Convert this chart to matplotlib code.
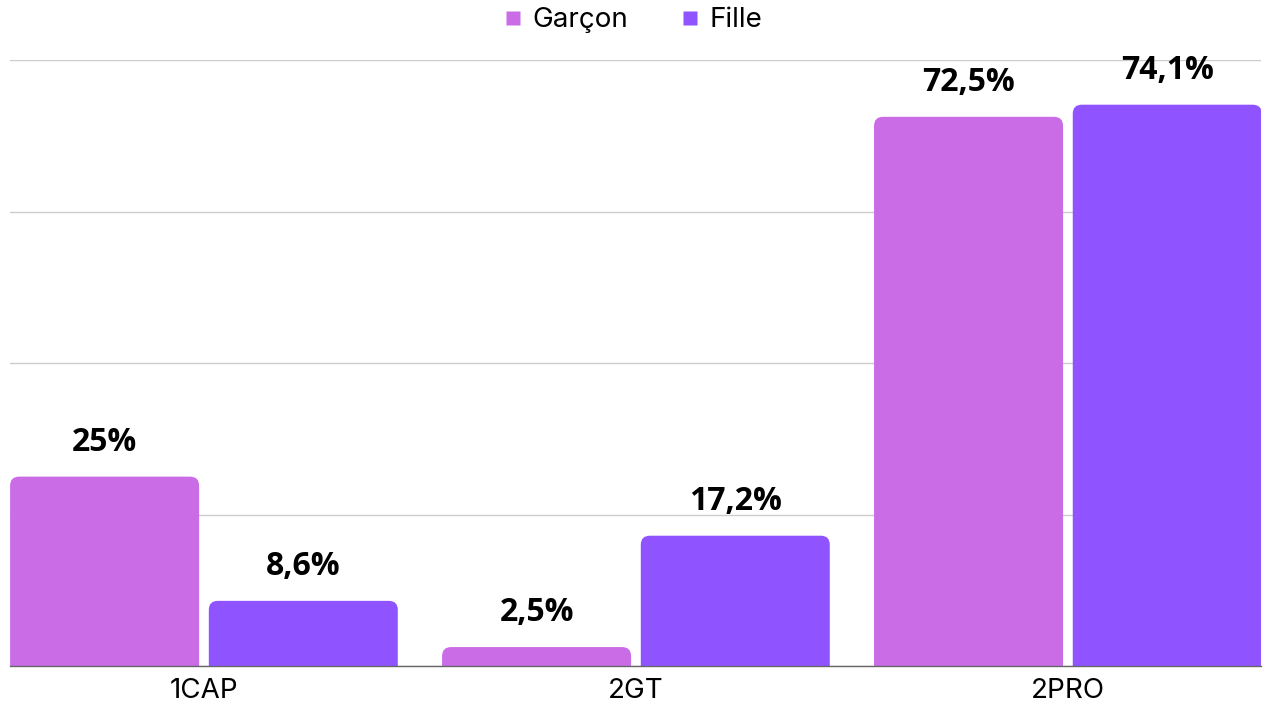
import matplotlib

matplotlib.use("Agg")

import matplotlib.pyplot as plt
from matplotlib.lines import Line2D
from matplotlib.patches import FancyBboxPatch

categories = ["1CAP", "2GT", "2PRO"]
series_names = ["Garçon", "Fille"]
garcon = [25.0, 2.5, 72.5]
fille = [8.6, 17.2, 74.1]
garcon_labels = ["25%", "2,5%", "72,5%"]
fille_labels = ["8,6%", "17,2%", "74,1%"]

colors = ["#C96CE6", "#8F54FF"]
tick_font = ["Inter", "DejaVu Sans"]
label_font = ["Open Sans", "DejaVu Sans"]

fig = plt.figure(figsize=(12.69, 7.09), dpi=100)
ax = fig.add_axes([10 / 1269, 43 / 709, 1251 / 1269, 606 / 709])
ax.set_xlim(-0.449, 2.447)
ax.set_ylim(0, 80)

# pixel scale, used to keep the corner radius round
fig.canvas.draw()
x0, y0 = ax.transData.transform((0, 0))
x1, y1 = ax.transData.transform((1, 1))
px_x = x1 - x0
px_y = y1 - y0
radius_px = 9
rx = radius_px / px_x
aspect = (radius_px / px_y) / rx

width = 0.4375
offset = 0.23
for values, labels, color, sign in [
    (garcon, garcon_labels, colors[0], -1),
    (fille, fille_labels, colors[1], 1),
]:
    for i, (value, text) in enumerate(zip(values, labels)):
        center = i + sign * offset
        patch = FancyBboxPatch(
            (center - width / 2, -5),
            width,
            value + 5,
            boxstyle=f"round,pad=0,rounding_size={rx}",
            mutation_aspect=aspect,
            facecolor=color,
            edgecolor="none",
            zorder=2,
        )
        ax.add_patch(patch)
        ax.annotate(
            text,
            (center, value),
            xytext=(0, 26),
            textcoords="offset pixels",
            ha="center",
            va="baseline",
            fontsize=23,
            fontweight="bold",
            family=label_font,
            annotation_clip=False,
        )

ax.set_yticks([0, 20, 40, 60, 80])
ax.yaxis.grid(True, color="#cccccc", linewidth=1)
ax.set_axisbelow(True)
ax.tick_params(axis="y", left=False, labelleft=False)
ax.set_xticks(range(len(categories)))
ax.set_xticklabels(categories, fontsize=20, family=tick_font)
ax.tick_params(axis="x", length=0, pad=9)
for side in ["top", "right", "left"]:
    ax.spines[side].set_visible(False)
ax.spines["bottom"].set_color("#666666")
ax.spines["bottom"].set_linewidth(1)
ax.spines["bottom"].set_zorder(3)

handles = [
    Line2D([], [], linestyle="none", marker="s", markersize=10.5,
           markerfacecolor=c, markeredgecolor="none")
    for c in colors
]
fig.legend(
    handles,
    series_names,
    loc="upper center",
    bbox_to_anchor=(0.497, 1.025),
    ncol=2,
    frameon=False,
    handlelength=1.0,
    handletextpad=0.2,
    columnspacing=1.7,
    prop={"family": tick_font, "size": 20},
)

fig.savefig("out.png", dpi=100)
